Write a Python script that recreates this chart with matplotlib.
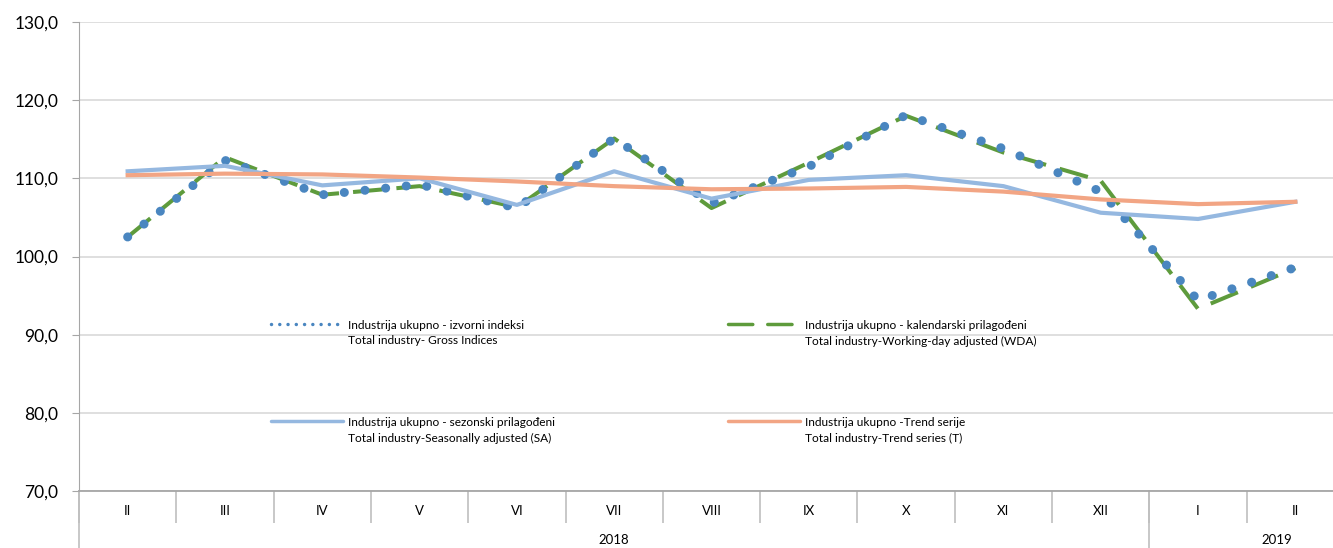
import matplotlib.pyplot as plt
from matplotlib.legend import Legend
from matplotlib.legend_handler import HandlerLine2D
from matplotlib.lines import Line2D
from matplotlib.ticker import FuncFormatter, MultipleLocator

months = ["II", "III", "IV", "V", "VI", "VII", "VIII", "IX", "X", "XI", "XII", "I", "II"]
years = ["2018", "2019"]

gross = [102.5, 112.3, 107.9, 109.2, 106.2, 115.1, 106.8, 111.5, 118.1, 113.8, 108.3, 94.4, 98.6]
wda = [102.5, 112.7, 107.9, 109.0, 106.3, 115.1, 106.2, 112.0, 118.0, 113.3, 109.7, 93.3, 98.5]
sa = [110.9, 111.6, 109.1, 110.0, 106.6, 110.9, 107.4, 109.8, 110.4, 109.0, 105.6, 104.8, 107.0]
trend = [110.4, 110.6, 110.5, 110.1, 109.6, 109.0, 108.6, 108.7, 108.9, 108.3, 107.3, 106.7, 107.0]

labels_hr = [
    "Industrija ukupno - izvorni indeksi",
    "Industrija ukupno - kalendarski prilagođeni",
    "Industrija ukupno - sezonski prilagođeni",
    "Industrija ukupno -Trend serije",
]
labels_en = [
    "Total industry- Gross Indices",
    "Total industry-Working-day adjusted (WDA)",
    "Total industry-Seasonally adjusted (SA)",
    "Total industry-Trend series (T)",
]

BLUE = "#4a86c0"
GREEN = "#5e9b3c"
LIGHT = "#95b8e0"
SALMON = "#f2a584"

plt.rcParams["font.family"] = ["Lato", "DejaVu Sans"]

W, H = 1333, 548
fig = plt.figure(figsize=(W / 100, H / 100), dpi=100)
ax = fig.add_axes([79 / W, 1 - 491 / H, (1344 - 79) / W, (491 - 22) / H])

x = list(range(len(months)))
ax.plot(x, wda, color=GREEN, lw=2.9, linestyle=(0, (7.3, 3.5)),
        dash_capstyle="butt", zorder=3)
ax.plot(x, gross, color=BLUE, lw=6.5, linestyle=(0, (0.01, 2.29)),
        dash_capstyle="round", zorder=4)
ax.plot(x, sa, color=LIGHT, lw=3.0, zorder=5)
ax.plot(x, trend, color=SALMON, lw=3.0, zorder=6)

ax.set_xlim(-0.5, len(months) - 0.5)
ax.set_ylim(70, 130)
ax.yaxis.set_major_locator(MultipleLocator(10))
ax.yaxis.set_major_formatter(FuncFormatter(lambda v, p: f"{v:.1f}".replace(".", ",")))
ax.grid(axis="y", color="#d9d9d9", lw=1.2)
ax.set_axisbelow(True)
ax.tick_params(axis="y", labelsize=12.5, length=5, color="#a6a6a6", pad=10)

for s in ["top", "right"]:
    ax.spines[s].set_visible(False)
ax.spines["left"].set_color("#a6a6a6")
ax.spines["bottom"].set_color("#a6a6a6")
ax.spines["bottom"].set_linewidth(1.3)

ax.set_xticks(x)
ax.set_xticklabels(months, fontsize=9.5)
ax.set_xticks([i - 0.5 for i in range(len(months) + 1)], minor=True)
ax.tick_params(axis="x", which="major", length=0, pad=10)
ax.tick_params(axis="x", which="minor", length=23, width=1.2, color="#bfbfbf")

# year separators and labels
xt = ax.get_xaxis_transform()
for xs in [-0.5, 10.5]:
    ax.plot([xs, xs], [0, -0.125], transform=xt, color="#bfbfbf", lw=1.2, clip_on=False)
ax.text(5, -0.104, years[0], transform=xt, ha="center", va="center", fontsize=9.5)
ax.text(11.81, -0.104, years[1], transform=xt, ha="center", va="center", fontsize=9.5)

# legend proxies (Excel draws smaller samples in the legend)
h_gross = Line2D([], [], color=BLUE, lw=2.5, linestyle=(0, (0.01, 2.37)), dash_capstyle="round")
h_wda = Line2D([], [], color=GREEN, lw=2.5, linestyle=(0, (7.0, 4.3)), dash_capstyle="round")
h_sa = Line2D([], [], color=LIGHT, lw=2.5, solid_capstyle="round")
h_trend = Line2D([], [], color=SALMON, lw=2.5, solid_capstyle="round")


class UpperHandler(HandlerLine2D):
    # put the sample next to the first line of a two-line label
    def create_artists(self, legend, orig_handle, xdescent, ydescent, width, height,
                       fontsize, trans):
        artists = super().create_artists(legend, orig_handle, xdescent, ydescent,
                                         width, height, fontsize, trans)
        for a in artists:
            a.set_ydata([y + fontsize * 0.8 for y in a.get_ydata()])
        return artists


def add_legend(handles, texts, px, py):
    lg = Legend(ax, handles, texts, loc="upper left",
                bbox_to_anchor=(px / W, 1 - py / H), bbox_transform=fig.transFigure,
                frameon=False, fontsize=8.6, handlelength=6.0, handletextpad=0.45,
                labelspacing=5.9, borderpad=0, borderaxespad=0,
                handler_map={h: UpperHandler() for h in handles})
    for t in lg.get_texts():
        t.set_linespacing(1.5)
    ax.add_artist(lg)
    return lg


lab = [f"{a}\n{b}" for a, b in zip(labels_hr, labels_en)]
add_legend([h_gross, h_sa], [lab[0], lab[2]], 271, 320)
add_legend([h_wda, h_trend], [lab[1], lab[3]], 728, 320)

fig.savefig("out.png", dpi=100)
